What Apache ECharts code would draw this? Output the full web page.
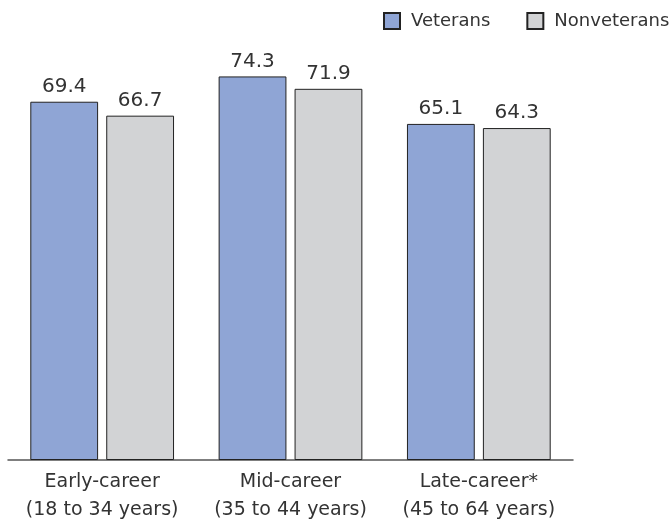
<!DOCTYPE html>
<html lang="en">
<head>
    <meta charset="UTF-8">
    <title>Veterans vs nonveterans</title>
    <script src="https://cdn.jsdelivr.net/npm/echarts@6/dist/echarts.min.js"></script>
    <style>
        html, body { margin: 0; padding: 0; background: #fff; }
        #ChartId { width: 670px; height: 524px; }
    </style>
</head>
<body>
<div id="ChartId"></div>
<script>
    // data
    var categories = ['Early-career\n(18 to 34 years)', 'Mid-career\n(35 to 44 years)', 'Late-career*\n(45 to 64 years)'];
    var veterans = [69.4, 74.3, 65.1];
    var nonveterans = [66.7, 71.9, 64.3];

    var textColor = '#333';
    var myChart = echarts.init(document.getElementById('ChartId'));

    var labelStyle = {
        show: true,
        position: 'top',
        distance: 5,
        color: textColor,
        fontSize: 20,
        fontFamily: 'DejaVu Sans',
        formatter: function (p) { return p.value.toFixed(1); }
    };

    var option = {
        animation: false,
        legend: {
            orient: 'horizontal',
            left: 383,
            top: 12,
            width: 290,
            padding: 0,
            itemWidth: 16,
            itemHeight: 16,
            itemGap: 36,
            icon: 'rect',
            textStyle: {
                color: textColor,
                fontSize: 18,
                fontFamily: 'DejaVu Sans',
                padding: [0, 0, 0, 6]
            },
            data: ['Veterans', 'Nonveterans']
        },
        grid: {
            left: 8,
            right: 97,
            top: 47,
            bottom: 61,
            containLabel: false
        },
        xAxis: {
            type: 'category',
            data: categories,
            axisTick: { show: false },
            axisLine: { lineStyle: { color: '#555', width: 1.5 } },
            axisLabel: {
                color: textColor,
                fontSize: 19,
                fontFamily: 'DejaVu Sans',
                lineHeight: 28,
                margin: 8,
                interval: 0
            }
        },
        yAxis: {
            type: 'value',
            min: 0,
            max: 80,
            show: false
        },
        series: [
            {
                name: 'Veterans',
                type: 'bar',
                data: veterans,
                barWidth: '36%',
                barGap: '12%',
                itemStyle: { color: '#8fa5d5', borderColor: '#222', borderWidth: 1 },
                label: labelStyle
            },
            {
                name: 'Nonveterans',
                type: 'bar',
                data: nonveterans,
                barWidth: '36%',
                itemStyle: { color: '#d2d3d5', borderColor: '#222', borderWidth: 1 },
                label: labelStyle
            }
        ]
    };
    myChart.setOption(option);
</script>
</body>
</html>
